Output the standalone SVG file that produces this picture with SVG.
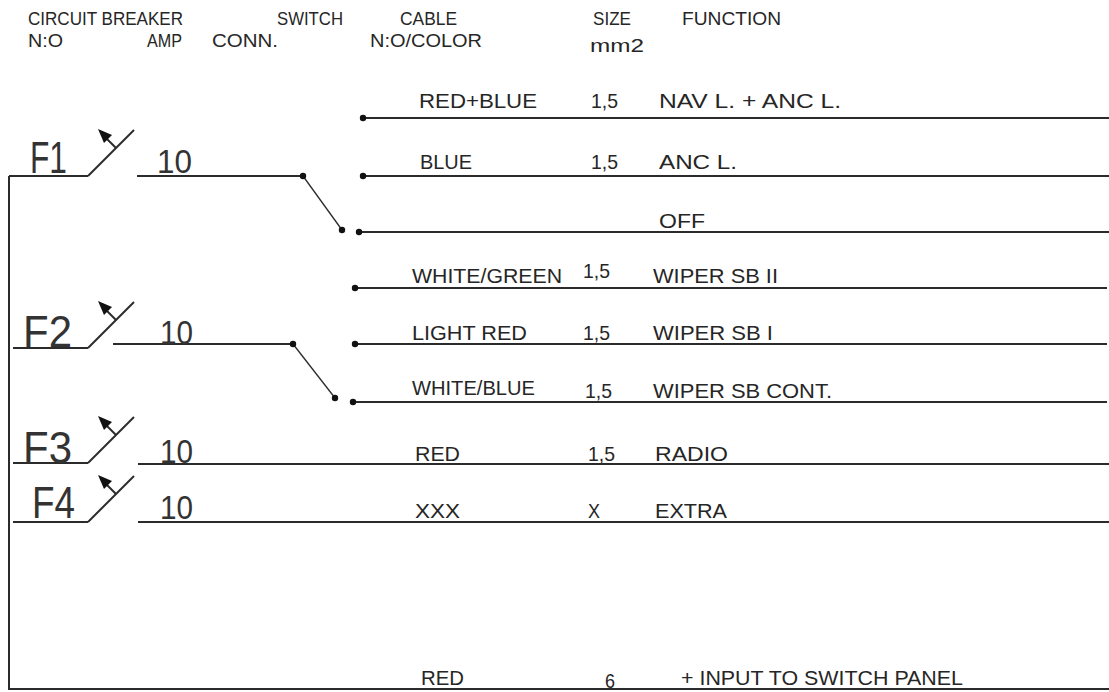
<svg xmlns="http://www.w3.org/2000/svg" width="1109" height="692" viewBox="0 0 1109 692">
<style>
.w{fill:none;stroke:#2b2b2b;stroke-width:2}
.arm{fill:none;stroke:#2b2b2b;stroke-width:1.3}
.t{font-family:"Liberation Sans",Arial,sans-serif;fill:#262626;font-size:21px}
.h{font-family:"Liberation Sans",Arial,sans-serif;fill:#262626;font-size:19px}
.f{font-family:"Liberation Sans",Arial,sans-serif;fill:#333;font-size:45px}
.a{font-family:"Liberation Sans",Arial,sans-serif;fill:#333;font-size:34px}
.d{fill:#111}
</style>
<defs>
<g id="brk">
<path class="w" d="M0,0 L46,-46"/>
<path class="w" d="M28,-28 L17,-39"/>
<polygon class="d" points="10,-47 24,-41 16,-33"/>
</g>
</defs>
<rect width="1109" height="692" fill="#fff"/>
<g id="header">
<text class="h" x="28" y="25" textLength="155" lengthAdjust="spacingAndGlyphs">CIRCUIT BREAKER</text>
<text class="h" x="277" y="25" textLength="66" lengthAdjust="spacingAndGlyphs">SWITCH</text>
<text class="h" x="400" y="25" textLength="57" lengthAdjust="spacingAndGlyphs">CABLE</text>
<text class="h" x="593" y="25" textLength="38" lengthAdjust="spacingAndGlyphs">SIZE</text>
<text class="h" x="682" y="25" textLength="99" lengthAdjust="spacingAndGlyphs">FUNCTION</text>
<text class="h" x="28" y="47" textLength="35" lengthAdjust="spacingAndGlyphs">N:O</text>
<text class="h" x="147" y="47" textLength="35" lengthAdjust="spacingAndGlyphs">AMP</text>
<text class="h" x="212" y="47" textLength="66" lengthAdjust="spacingAndGlyphs">CONN.</text>
<text class="h" x="370" y="47" textLength="112" lengthAdjust="spacingAndGlyphs">N:O/COLOR</text>
<text class="h" x="590" y="52" textLength="54" lengthAdjust="spacingAndGlyphs">mm2</text>
</g>
<g id="connectors">
<path class="w" d="M9,176 V689 H1109"/>
<path class="w" d="M9,176 H88"/>
<path class="w" d="M137,176 H303"/>
<path class="arm" d="M303,176 L342,230"/>
<path class="w" d="M363,118 H1109"/>
<path class="w" d="M363,176 H1109"/>
<path class="w" d="M359,232 H1109"/>
<path class="w" d="M13,348 H88"/>
<path class="w" d="M113,344 H293"/>
<path class="arm" d="M293,344 L335,398"/>
<path class="w" d="M355,288 H1107"/>
<path class="w" d="M355,344 H1107"/>
<path class="w" d="M353,402 H1107"/>
<path class="w" d="M13,463 H88"/>
<path class="w" d="M138,464 H1109"/>
<path class="w" d="M13,522 H88"/>
<path class="w" d="M138,522 H1109"/>
</g>
<g id="F1">
<use href="#brk" x="88" y="176"/>
<text class="f" x="30" y="173" textLength="37" lengthAdjust="spacingAndGlyphs">F1</text>
<text class="a" x="157" y="173" textLength="35" lengthAdjust="spacingAndGlyphs">10</text>
</g>
<g id="F2">
<use href="#brk" x="88" y="348"/>
<text class="f" x="23" y="347" textLength="49" lengthAdjust="spacingAndGlyphs">F2</text>
<text class="a" x="160" y="344" textLength="33" lengthAdjust="spacingAndGlyphs">10</text>
</g>
<g id="F3">
<use href="#brk" x="88" y="463"/>
<text class="f" x="23" y="463" textLength="49" lengthAdjust="spacingAndGlyphs">F3</text>
<text class="a" x="160" y="463" textLength="33" lengthAdjust="spacingAndGlyphs">10</text>
</g>
<g id="F4">
<use href="#brk" x="88" y="522"/>
<text class="f" x="32" y="518" textLength="43" lengthAdjust="spacingAndGlyphs">F4</text>
<text class="a" x="160" y="519" textLength="33" lengthAdjust="spacingAndGlyphs">10</text>
</g>
<g id="switch1">
<circle class="d" cx="303" cy="176" r="3.2"/>
<circle class="d" cx="342" cy="230" r="3.2"/>
<circle class="d" cx="359" cy="232" r="3.2"/>
<circle class="d" cx="363" cy="118" r="3.2"/>
<circle class="d" cx="363" cy="176" r="3.2"/>
</g>
<g id="switch2">
<circle class="d" cx="293" cy="344" r="3.2"/>
<circle class="d" cx="335" cy="398" r="3.2"/>
<circle class="d" cx="353" cy="402" r="3.2"/>
<circle class="d" cx="355" cy="288" r="3.2"/>
<circle class="d" cx="355" cy="344" r="3.2"/>
</g>
<g id="row-nav">
<text class="t" x="419" y="108" textLength="118" lengthAdjust="spacingAndGlyphs">RED+BLUE</text>
<text class="t" x="591" y="108" textLength="27" lengthAdjust="spacingAndGlyphs">1,5</text>
<text class="t" x="659" y="108" textLength="182" lengthAdjust="spacingAndGlyphs">NAV L. + ANC L.</text>
</g>
<g id="row-anc">
<text class="t" x="420" y="169" textLength="52" lengthAdjust="spacingAndGlyphs">BLUE</text>
<text class="t" x="591" y="169" textLength="27" lengthAdjust="spacingAndGlyphs">1,5</text>
<text class="t" x="659" y="169" textLength="78" lengthAdjust="spacingAndGlyphs">ANC L.</text>
</g>
<g id="row-off">
<text class="t" x="659" y="228" textLength="46" lengthAdjust="spacingAndGlyphs">OFF</text>
</g>
<g id="row-wiper2">
<text class="t" x="412" y="283" textLength="150" lengthAdjust="spacingAndGlyphs">WHITE/GREEN</text>
<text class="t" x="583" y="278" textLength="27" lengthAdjust="spacingAndGlyphs">1,5</text>
<text class="t" x="653" y="283" textLength="125" lengthAdjust="spacingAndGlyphs">WIPER SB  II</text>
</g>
<g id="row-wiper1">
<text class="t" x="412" y="340" textLength="115" lengthAdjust="spacingAndGlyphs">LIGHT RED</text>
<text class="t" x="583" y="340" textLength="27" lengthAdjust="spacingAndGlyphs">1,5</text>
<text class="t" x="653" y="340" textLength="120" lengthAdjust="spacingAndGlyphs">WIPER SB  I</text>
</g>
<g id="row-wipercont">
<text class="t" x="412" y="395" textLength="123" lengthAdjust="spacingAndGlyphs">WHITE/BLUE</text>
<text class="t" x="585" y="398" textLength="27" lengthAdjust="spacingAndGlyphs">1,5</text>
<text class="t" x="653" y="398" textLength="179" lengthAdjust="spacingAndGlyphs">WIPER SB CONT.</text>
</g>
<g id="row-radio">
<text class="t" x="415" y="461" textLength="45" lengthAdjust="spacingAndGlyphs">RED</text>
<text class="t" x="588" y="461" textLength="27" lengthAdjust="spacingAndGlyphs">1,5</text>
<text class="t" x="655" y="461" textLength="73" lengthAdjust="spacingAndGlyphs">RADIO</text>
</g>
<g id="row-extra">
<text class="t" x="415" y="518" textLength="45" lengthAdjust="spacingAndGlyphs">XXX</text>
<text class="t" x="588" y="518" textLength="12" lengthAdjust="spacingAndGlyphs">X</text>
<text class="t" x="655" y="518" textLength="72" lengthAdjust="spacingAndGlyphs">EXTRA</text>
</g>
<g id="row-input">
<text class="t" x="421" y="685" textLength="43" lengthAdjust="spacingAndGlyphs">RED</text>
<text class="t" x="605" y="688" textLength="10" lengthAdjust="spacingAndGlyphs">6</text>
<text class="t" x="681" y="685" textLength="282" lengthAdjust="spacingAndGlyphs">+ INPUT TO SWITCH PANEL</text>
</g>
</svg>
